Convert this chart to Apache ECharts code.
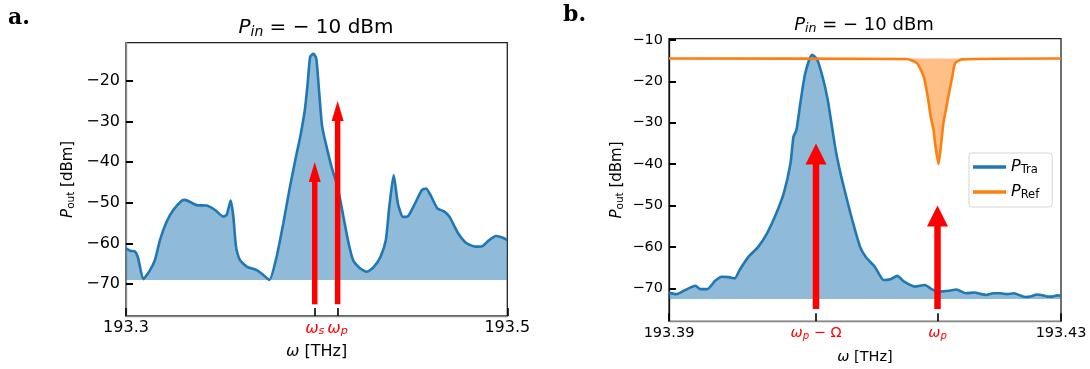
<!DOCTYPE html>
<html>
<head>
<meta charset="utf-8">
<script src="https://cdn.jsdelivr.net/npm/echarts@6/dist/echarts.min.js"></script>
<style>
  html, body { margin: 0; padding: 0; background: #fff; }
  #chart { width: 1090px; height: 369px; }
</style>
</head>
<body>
<div id="chart"></div>
<script>
const FONT = 'DejaVu Sans';
const BLUE = '#1f77b4';
const ORANGE = '#ff7f0e';
const RED = '#ff0000';

// panel a: output spectrum, 193.3 - 193.5 THz
const aFreq = [193.3000, 193.3021, 193.3047, 193.3063, 193.3091, 193.3126, 193.3152, 193.3178, 193.3213, 193.3248,
  193.3292, 193.3309, 193.3371, 193.3423, 193.3467, 193.3510, 193.3528, 193.3549, 193.3563, 193.3577,
  193.3598, 193.3633, 193.3686, 193.3720, 193.3752, 193.3790, 193.3825, 193.3860, 193.3895, 193.3913,
  193.3938, 193.3953, 193.3966, 193.3983, 193.3998, 193.4011, 193.4029, 193.4056, 193.4083, 193.4110,
  193.4137, 193.4164, 193.4191, 193.4227, 193.4264, 193.4300, 193.4335, 193.4363, 193.4381, 193.4404,
  193.4426, 193.4453, 193.4480, 193.4516, 193.4552, 193.4574, 193.4597, 193.4633, 193.4670, 193.4697,
  193.4742, 193.4787, 193.4832, 193.4868, 193.4905, 193.4941, 193.4977, 193.5000];
const aPower = [-61.2, -61.8, -62.0, -63.5, -68.8, -66.6, -64.1, -59.2, -54.7, -51.8,
  -49.5, -49.3, -50.6, -50.7, -51.8, -53.4, -53.0, -49.5, -53.4, -60.8,
  -64.1, -65.7, -66.6, -67.8, -69.0, -63.3, -55.1, -46.1, -37.9, -34.0,
  -27.2, -20.6, -14.1, -13.4, -14.5, -21.5, -31.3, -37.0, -42.0, -46.1,
  -52.6, -59.2, -64.1, -66.1, -67.0, -65.8, -63.3, -59.2, -51.0, -43.2,
  -50.2, -53.5, -53.3, -50.2, -46.9, -46.5, -48.1, -51.4, -52.2, -53.5,
  -57.5, -60.0, -60.8, -60.7, -59.2, -58.2, -58.6, -59.2];
const aOmegaS = 193.399;
const aOmegaP = 193.411;
const aTicksX = [193.3, aOmegaS, aOmegaP, 193.5];
const aTicksY = [-70, -60, -50, -40, -30, -20];
const aFloor = -69.0;
// [x, from, to]
const aArrows = [[aOmegaS, -75, -40], [aOmegaP, -75, -25]];

// panel b: transmitted and reflected power, 193.39 - 193.43 THz
const bTraFreq = [193.3900, 193.3908, 193.3915, 193.3927, 193.3932, 193.3939, 193.3947, 193.3954, 193.3961, 193.3967,
  193.3972, 193.3981, 193.3991, 193.4000, 193.4008, 193.4017, 193.4024, 193.4027, 193.4030, 193.4034,
  193.4039, 193.4046, 193.4051, 193.4057, 193.4062, 193.4066, 193.4070, 193.4075, 193.4081, 193.4087,
  193.4095, 193.4101, 193.4110, 193.4119, 193.4126, 193.4133, 193.4140, 193.4151, 193.4161, 193.4168,
  193.4175, 193.4186, 193.4193, 193.4203, 193.4212, 193.4217, 193.4224, 193.4231, 193.4238, 193.4245,
  193.4252, 193.4259, 193.4264, 193.4270, 193.4275, 193.4280, 193.4286, 193.4291, 193.4296, 193.4300];
const bTraPower = [-71.1, -71.4, -70.6, -69.4, -70.2, -70.2, -68.2, -67.2, -67.3, -67.6,
  -65.6, -62.4, -60.0, -56.7, -52.7, -47.1, -39.8, -33.4, -31.8, -25.3,
  -18.1, -13.6, -14.6, -19.2, -24.5, -30.5, -36.5, -42.2, -48.0, -53.5,
  -60.0, -62.5, -64.8, -68.0, -67.8, -67.0, -68.4, -69.6, -69.2, -70.2,
  -70.8, -70.6, -70.3, -71.2, -71.0, -71.3, -71.6, -71.2, -71.2, -71.4,
  -71.2, -71.8, -72.1, -71.9, -71.5, -71.6, -72.0, -72.0, -71.7, -71.8];
const bRefFreq = [193.3900, 193.4142, 193.4153, 193.4160, 193.4164, 193.4167, 193.4170, 193.4172, 193.4175,
  193.4177, 193.4180, 193.4183, 193.4185, 193.4189, 193.4192, 193.4199, 193.4300];
const bRefPower = [-14.5, -14.6, -15.6, -18.9, -23.7, -28.5, -31.8, -35.8, -40.0,
  -36.6, -30.1, -26.3, -23.7, -18.9, -15.6, -14.7, -14.5];
const bOmegaShift = 193.405;
const bOmegaP = 193.4174;
const bTicksX = [193.39, bOmegaShift, bOmegaP, 193.43];
const bTicksY = [-70, -60, -50, -40, -30, -20, -10];
const bTraFloor = -72.6;
const bRefLevel = -14.5;
const bArrows = [[bOmegaShift, -75, -35], [bOmegaP, -75, -50]];

const pairs = (xs, ys) => xs.map((x, i) => [x, ys[i]]);
const near = (a, b) => Math.abs(a - b) < 1e-6;

function txt(size, extra) {
  return Object.assign({ fontFamily: FONT, fontSize: size, color: '#000' }, extra || {});
}

// rich styles for pseudo-mathtext
function mathRich(size, subSize, color, shift) {
  return {
    i: txt(size, { fontStyle: 'italic', color }),
    s: txt(subSize, { fontStyle: 'italic', color, padding: [shift * 2, 0, 0, 0] }),
    r: txt(subSize, { color, padding: [shift * 2, 0, 0, 0] }),
    n: txt(size, { color })
  };
}

function xAxis(idx, min, max, ticks, fontSize, digits, special) {
  return {
    type: 'value', gridIndex: idx, min, max,
    axisLine: { show: true, lineStyle: { color: '#888', width: 1.3 } },
    axisTick: { show: true, inside: true, length: 8, customValues: ticks, lineStyle: { color: '#000', width: 1.6 } },
    axisLabel: {
      customValues: ticks, margin: 4, fontFamily: FONT, fontSize, color: '#000',
      formatter: v => special(v) || v.toFixed(digits),
      rich: mathRich(fontSize, fontSize * 0.7, RED, 3)
    },
    splitLine: { show: false },
    name: '{i|ω}{n| [THz]}', nameLocation: 'middle', nameGap: 28,
    nameTextStyle: { rich: mathRich(fontSize, 11, '#000', 3) }
  };
}

function yAxis(idx, min, max, ticks, fontSize, nameGap, lineColor) {
  return {
    type: 'value', gridIndex: idx, min, max,
    axisLine: { show: true, lineStyle: { color: lineColor, width: 1.3 } },
    axisTick: { show: true, inside: true, length: 7, customValues: ticks, lineStyle: { color: '#000', width: 2 } },
    axisLabel: {
      customValues: ticks, margin: 6, fontFamily: FONT, fontSize, color: '#000',
      formatter: v => '\u2212' + Math.abs(v)
    },
    splitLine: { show: false },
    name: '{i|P}{r|out}{n| [dBm]}', nameLocation: 'middle', nameGap, nameRotate: 90,
    nameTextStyle: { rich: mathRich(15, 10.5, '#000', 3) }
  };
}

function arrowSeries(idx, data, shaftW, headW, headL) {
  return {
    type: 'custom', xAxisIndex: idx, yAxisIndex: idx, z: 10, silent: true,
    data,
    encode: { x: 0, y: [1, 2] },
    renderItem: (params, api) => {
      const base = api.coord([api.value(0), api.value(1)]);
      const tip = api.coord([api.value(0), api.value(2)]);
      const x = base[0];
      return {
        type: 'group',
        children: [
          { type: 'rect', shape: { x: x - shaftW / 2, y: tip[1] + headL - 1, width: shaftW, height: base[1] - tip[1] - headL + 1 }, style: { fill: RED } },
          { type: 'polygon', shape: { points: [[x, tip[1]], [x - headW / 2, tip[1] + headL], [x + headW / 2, tip[1] + headL]] }, style: { fill: RED } }
        ]
      };
    }
  };
}

function titleText(x, y, size) {
  const sub = size * 0.7;
  return {
    type: 'text', x, y, silent: true,
    style: {
      text: '{i|P}{s|in}{n| = − 10 dBm}', align: 'center', verticalAlign: 'middle',
      rich: {
        i: { fontFamily: FONT, fontSize: size, fontStyle: 'italic', fill: '#000' },
        s: { fontFamily: FONT, fontSize: sub, fontStyle: 'italic', fill: '#000', padding: [8, 0, 0, 0] },
        n: { fontFamily: FONT, fontSize: size, fill: '#000' }
      }
    }
  };
}

const chart = echarts.init(document.getElementById('chart'), null, { renderer: 'canvas' });

chart.setOption({
  animation: false,
  backgroundColor: '#fff',
  grid: [
    { left: 126, top: 42.7, width: 381.3, height: 273.3, show: true, borderColor: '#222', borderWidth: 1.3, outerBoundsMode: 'none' },
    { left: 669, top: 38.7, width: 392, height: 282.6, show: true, borderColor: '#222', borderWidth: 1.3, outerBoundsMode: 'none' }
  ],
  xAxis: [
    xAxis(0, 193.3, 193.5, aTicksX, 16, 1, v => near(v, aOmegaS) ? '{i|ω}{s|s}' : near(v, aOmegaP) ? '{i|ω}{s|p}' : null),
    xAxis(1, 193.39, 193.43, bTicksX, 14.5, 2, v => near(v, bOmegaShift) ? '{i|ω}{s|p}{n| − Ω}' : near(v, bOmegaP) ? '{i|ω}{s|p}' : null)
  ],
  yAxis: [
    yAxis(0, -77.87, -10.65, aTicksY, 16, 49, '#888'),
    yAxis(1, -77.97, -9.7, bTicksY, 14.5, 43, '#111')
  ],
  legend: {
    data: ['PTra', 'PRef'], orient: 'vertical', left: 969, top: 153,
    icon: 'rect', itemWidth: 33, itemHeight: 3.5, itemGap: 8, itemTextGap: 11,
    padding: [6, 13, 6, 4], borderColor: '#d5d5d5', borderWidth: 1, borderRadius: 3,
    backgroundColor: '#fff', selectedMode: false,
    formatter: n => n === 'PTra' ? '{i|P}{r|Tra}' : '{i|P}{r|Ref}',
    textStyle: { rich: mathRich(16, 11.5, '#000', 3) }
  },
  graphic: [
    { type: 'text', x: 8, y: 7, silent: true, style: { text: 'a.', fontFamily: 'DejaVu Serif', fontWeight: 'bold', fontSize: 22, fill: '#000' } },
    { type: 'text', x: 563, y: 4, silent: true, style: { text: 'b.', fontFamily: 'DejaVu Serif', fontWeight: 'bold', fontSize: 22, fill: '#000' } },
    titleText(316, 28, 20),
    titleText(864, 25, 18)
  ],
  series: [
    {
      type: 'line', name: 'a', xAxisIndex: 0, yAxisIndex: 0, data: pairs(aFreq, aPower),
      symbol: 'none', smooth: 0.2, z: 2,
      lineStyle: { color: BLUE, width: 2.6 }, itemStyle: { color: BLUE },
      areaStyle: { color: BLUE, opacity: 0.5, origin: aFloor }
    },
    arrowSeries(0, aArrows, 5.5, 12, 20),
    {
      type: 'line', name: 'PTra', xAxisIndex: 1, yAxisIndex: 1, data: pairs(bTraFreq, bTraPower),
      symbol: 'none', smooth: 0.2, z: 2,
      lineStyle: { color: BLUE, width: 2.6 }, itemStyle: { color: BLUE },
      areaStyle: { color: BLUE, opacity: 0.5, origin: bTraFloor }
    },
    {
      type: 'line', name: 'PRef', xAxisIndex: 1, yAxisIndex: 1, data: pairs(bRefFreq, bRefPower),
      symbol: 'none', smooth: 0.2, z: 3,
      lineStyle: { color: ORANGE, width: 2.6 }, itemStyle: { color: ORANGE },
      areaStyle: { color: ORANGE, opacity: 0.5, origin: bRefLevel }
    },
    arrowSeries(1, bArrows, 6.5, 21, 21)
  ]
});
</script>
</body>
</html>
